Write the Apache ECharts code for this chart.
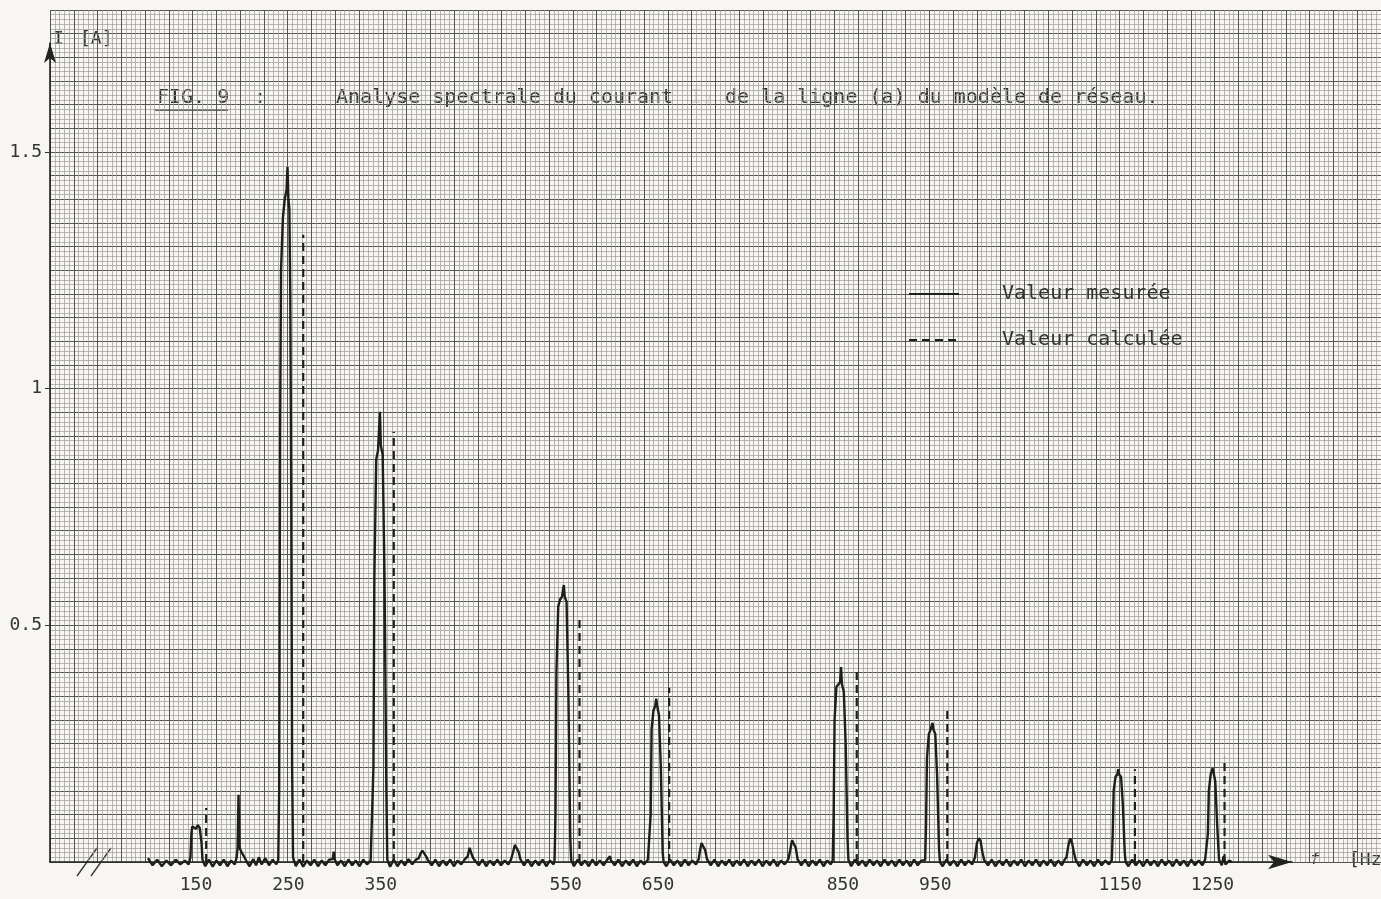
<!DOCTYPE html>
<html>
<head>
<meta charset="utf-8">
<script src="https://cdn.jsdelivr.net/npm/echarts@6/dist/echarts.min.js"></script>
<style>
html,body{margin:0;padding:0;background:#f7f6f2;}
#chart{width:1381px;height:899px;}
</style>
</head>
<body>
<div id="chart"></div>
<script>
// ---- data ----
var xTickLabels = [150, 250, 350, 550, 650, 850, 950, 1150, 1250];
var yTickLabels = [0.5, 1, 1.5];

// measured spectrum trace: [frequency Hz, current A]
var measured = [
 [98,0.008],[103,-0.007],[108,0.005],[113,-0.009],[118,0.003],[123,-0.007],[128,0.005],[133,-0.005],[138,0.003],[142,-0.005],
 [144,0.01],[145,0.06],[146,0.075],[148,0.078],[150,0.07],[152,0.078],[154,0.072],[156,0.04],[157,0.005],
 [160,-0.009],[164,0.005],[168,-0.01],[172,0.003],[176,-0.007],[180,0.005],[184,-0.009],[188,0.003],[192,-0.005],
 [194,0.01],[195,0.03],[196,0.142],[197,0.03],[199,0.022],[201,0.018],[203,0.008],[205,0],
 [208,-0.009],[212,0.006],[215,-0.007],[218,0.01],[221,-0.005],[225,0.008],[229,-0.007],[233,0.005],[237,-0.005],
 [239,0.004],[240,0.15],[241,0.9],[242,1.25],[244,1.36],[246,1.4],[248,1.42],[249,1.468],[250,1.4],[251,1.38],[252,1.2],[253,0.8],[254,0.2],[255,0.01],
 [258,-0.009],[262,0.005],[266,-0.01],[270,0.003],[274,-0.007],[278,0.005],[282,-0.009],[286,0.003],[290,-0.007],[294,0.005],
 [298,0.006],[299,0.022],[300,0.006],[303,-0.007],[307,0.003],[311,-0.009],[315,0.005],[319,-0.007],[323,0.003],[327,-0.009],[331,0.005],[335,-0.005],[339,0.003],
 [341,0.004],[342,0.2],[343,0.6],[345,0.85],[347,0.87],[349,0.951],[350,0.88],[352,0.86],[354,0.6],[356,0.15],[357,0.005],
 [360,-0.01],[364,0.005],[368,-0.009],[372,0.003],[376,-0.007],[380,0.006],[384,-0.005],[388,0.005],[391,0.008],
 [393,0.018],[395,0.024],[397,0.02],[399,0.012],[401,0.004],[405,-0.007],[409,0.005],[413,-0.009],[417,0.003],[421,-0.007],[425,0.005],[429,-0.009],[433,0.003],[437,-0.005],[441,0.006],
 [444,0.012],[446,0.03],[448,0.018],[450,0.008],[452,0.004],[456,-0.007],[460,0.005],[464,-0.009],[468,0.003],[472,-0.007],[476,0.005],[480,-0.007],[484,0.003],[488,-0.005],[491,0.006],
 [493,0.02],[495,0.036],[497,0.034],[499,0.022],[501,0.006],[505,-0.007],[509,0.005],[513,-0.009],[517,0.003],[521,-0.007],[525,0.005],[529,-0.009],[533,0.003],[537,-0.005],
 [538,0.004],[539,0.1],[540,0.4],[542,0.54],[544,0.555],[546,0.56],[548,0.585],[549,0.56],[551,0.55],[553,0.35],[555,0.05],[556,0.004],
 [559,-0.009],[563,0.005],[567,-0.007],[571,0.003],[575,-0.009],[579,0.005],[583,-0.007],[587,0.003],[591,-0.007],[595,0.005],
 [597,0.006],[598,0.012],[599,0.004],[603,-0.007],[607,0.005],[611,-0.009],[615,0.003],[619,-0.007],[623,0.005],[627,-0.009],[631,0.003],[635,-0.005],[639,0.005],
 [641,0.004],[642,0.1],[643,0.28],[645,0.32],[647,0.33],[648,0.345],[649,0.33],[651,0.31],[653,0.2],[655,0.02],[656,0],
 [659,-0.009],[663,0.005],[667,-0.007],[671,0.003],[675,-0.009],[679,0.005],[683,-0.007],[687,0.003],[691,-0.005],[694,0.006],
 [695,0.02],[697,0.04],[699,0.038],[701,0.025],[703,0.006],[707,-0.007],
 [711,0.005],[715,-0.009],[719,0.003],[723,-0.007],[727,0.005],[731,-0.009],[735,0.003],[739,-0.007],[743,0.005],[747,-0.009],[751,0.003],[755,-0.007],
 [759,0.005],[763,-0.009],[767,0.003],[771,-0.007],[775,0.005],[779,-0.009],[783,0.003],[787,-0.005],[791,0.006],
 [793,0.025],[795,0.046],[797,0.044],[799,0.03],[801,0.006],[805,-0.007],[809,0.005],[813,-0.009],[817,0.003],[821,-0.007],[825,0.005],[829,-0.009],[833,0.003],[837,-0.005],
 [839,0.004],[840,0.1],[841,0.3],[843,0.37],[845,0.375],[847,0.38],[848,0.412],[849,0.375],[851,0.36],[853,0.25],[855,0.05],[856,0.004],
 [859,-0.009],[863,0.005],[867,-0.007],[871,0.003],[875,-0.009],[879,0.005],[883,-0.007],[887,0.003],[891,-0.009],[895,0.005],[899,-0.007],[903,0.003],
 [907,-0.009],[911,0.005],[915,-0.007],[919,0.003],[923,-0.009],[927,0.005],[931,-0.007],[935,0.003],
 [939,0.004],[940,0.08],[941,0.22],[943,0.27],[945,0.28],[947,0.294],[948,0.28],[950,0.27],[952,0.18],[954,0.03],[955,0],
 [958,-0.009],[962,0.005],[966,-0.007],[970,0.003],[974,-0.009],[978,0.005],[982,-0.007],[986,0.003],[990,-0.005],
 [993,0.01],[995,0.04],[997,0.05],[999,0.045],[1001,0.02],[1003,0.004],
 [1007,-0.007],[1011,0.005],[1015,-0.009],[1019,0.003],[1023,-0.007],[1027,0.005],[1031,-0.009],[1035,0.003],[1039,-0.007],[1043,0.005],[1047,-0.009],
 [1051,0.003],[1055,-0.007],[1059,0.005],[1063,-0.009],[1067,0.003],[1071,-0.007],[1075,0.005],[1079,-0.009],[1083,0.003],[1087,-0.007],[1090,0.005],
 [1092,0.01],[1094,0.035],[1096,0.05],[1098,0.04],[1100,0.02],[1102,0.004],
 [1106,-0.009],[1110,0.005],[1114,-0.007],[1118,0.003],[1122,-0.009],[1126,0.005],[1130,-0.007],[1134,0.003],[1138,-0.005],
 [1141,0.004],[1142,0.06],[1143,0.15],[1145,0.18],[1147,0.185],[1148,0.196],[1149,0.185],[1151,0.18],[1153,0.12],[1155,0.02],[1156,0],
 [1159,-0.009],[1163,0.005],[1167,-0.007],[1171,0.003],[1175,-0.009],[1179,0.005],[1183,-0.007],[1187,0.003],[1191,-0.009],[1195,0.005],
 [1199,-0.007],[1203,0.003],[1207,-0.009],[1211,0.005],[1215,-0.007],[1219,0.003],[1223,-0.009],[1227,0.005],[1231,-0.007],[1235,0.003],[1239,-0.007],[1242,0.005],
 [1244,0.004],[1245,0.06],[1246,0.15],[1248,0.185],[1250,0.198],[1251,0.19],[1253,0.17],[1255,0.08],[1257,0.005],
 [1260,-0.007],[1262,0.012],[1264,-0.005],[1268,0.003],[1271,0]
];

// calculated values: drawn as dashed vertical lines beside each harmonic
var calcFreq = [161, 266, 364, 565, 662, 865, 963, 1166, 1263];
var calcValue = [0.114, 1.325, 0.909, 0.518, 0.368, 0.408, 0.32, 0.196, 0.22];

// ---- build ----
var calcData = [];
for (var i = 0; i < calcFreq.length; i++) {
  calcData.push([calcFreq[i], 0], [calcFreq[i], calcValue[i]], [calcFreq[i], '-']);
}

var MONO = '"DejaVu Sans Mono", "Liberation Mono", monospace';
var INK = '#333333';

var chart = echarts.init(document.getElementById('chart'));
chart.setOption({
  backgroundColor: '#f7f6f2',
  animation: false,
  textStyle: { fontFamily: MONO },
  grid: [
    { left: 50, top: 10, width: 1336.7, height: 852, show: false },
    { left: 50, right: 89, top: 43, bottom: 37, show: false }
  ],
  xAxis: [
    { gridIndex: 0, type: 'value', min: 0, max: 280, interval: 5,
      axisLine: { show: false }, axisTick: { show: false }, axisLabel: { show: false },
      splitLine: { show: true, lineStyle: { color: '#555553', width: 1 } },
      minorTick: { show: false, splitNumber: 5 },
      minorSplitLine: { show: true, lineStyle: { color: '#9c9b97', width: 0.7 } }, z: 0 },
    { gridIndex: 1, type: 'value', min: -8, max: 1336,
      axisLine: { show: true, onZero: false, symbol: ['none', 'arrow'], symbolSize: [11, 24],
        lineStyle: { color: '#222', width: 1.6 } },
      axisTick: { show: false },
      splitLine: { show: false },
      axisLabel: { customValues: xTickLabels, color: INK, fontSize: 18, fontFamily: MONO, margin: 14,
        formatter: function (v) { return String(v); } } }
  ],
  yAxis: [
    { gridIndex: 0, type: 'value', min: 0, max: 180, interval: 5,
      axisLine: { show: false }, axisTick: { show: false }, axisLabel: { show: false },
      splitLine: { show: true, lineStyle: { color: '#555553', width: 1 } },
      minorTick: { show: false, splitNumber: 5 },
      minorSplitLine: { show: true, lineStyle: { color: '#9c9b97', width: 0.7 } }, z: 0 },
    { gridIndex: 1, type: 'value', min: 0, max: 1.73,
      axisLine: { show: true, onZero: false, symbol: ['none', 'arrow'], symbolSize: [9, 20],
        lineStyle: { color: '#222', width: 1.6 } },
      axisTick: { show: true, customValues: yTickLabels, length: 5, lineStyle: { color: '#333', width: 1 } },
      splitLine: { show: false },
      axisLabel: { customValues: yTickLabels, color: INK, fontSize: 18, fontFamily: MONO, margin: 8 } }
  ],
  legend: {
    orient: 'vertical', left: 903, top: 279, itemWidth: 50, itemHeight: 14, itemGap: 26,
    data: ['Valeur mesurée', 'Valeur calculée'],
    itemStyle: { opacity: 0 },
    textStyle: { color: INK, fontSize: 20, fontFamily: MONO, padding: [0, 0, 0, 38] }
  },
  series: [
    { name: 'Valeur mesurée', type: 'line', xAxisIndex: 1, yAxisIndex: 1, data: measured,
      showSymbol: false, symbol: 'none', clip: false,
      lineStyle: { color: '#1e1e1e', width: 2.4 }, itemStyle: { color: '#1e1e1e' }, z: 5 },
    { name: 'Valeur calculée', type: 'line', xAxisIndex: 1, yAxisIndex: 1, data: calcData,
      showSymbol: false, symbol: 'none', connectNulls: false, clip: false,
      lineStyle: { color: '#1e1e1e', width: 2.2, type: [8, 5] }, itemStyle: { color: '#1e1e1e' }, z: 4 }
  ],
  graphic: [
    { type: 'text', left: 53, top: 30, style: { text: 'I', font: '18px ' + MONO, fill: INK } },
    { type: 'text', left: 80, top: 30, style: { text: '[A]', font: '18px ' + MONO, fill: INK } },
    { type: 'text', left: 157, top: 88, style: { text: 'FIG. 9', font: '20px ' + MONO, fill: INK } },
    { type: 'line', shape: { x1: 155, y1: 110, x2: 228, y2: 110 }, style: { stroke: '#333', lineWidth: 1.5 } },
    { type: 'text', left: 254, top: 88, style: { text: ':', font: '20px ' + MONO, fill: INK } },
    { type: 'text', left: 336, top: 88, style: { text: 'Analyse spectrale du courant', font: '20px ' + MONO, fill: INK } },
    { type: 'text', left: 690, top: 88, style: { text: 'I₂', font: '20px ' + MONO, fill: '#d9d8d4' } },
    { type: 'text', left: 725, top: 88, style: { text: 'de la ligne (a) du modèle de réseau.', font: '20px ' + MONO, fill: INK } },
    { type: 'text', left: 1310, top: 852, style: { text: 'f', font: 'italic 16px ' + MONO, fill: INK } },
    { type: 'text', left: 1349, top: 851, style: { text: '[Hz]', font: '18px ' + MONO, fill: INK } },
    { type: 'line', shape: { x1: 77, y1: 876, x2: 97, y2: 848 }, style: { stroke: '#333', lineWidth: 1.3 } },
    { type: 'line', shape: { x1: 91, y1: 876, x2: 111, y2: 848 }, style: { stroke: '#333', lineWidth: 1.3 } }
  ]
});
</script>
</body>
</html>
